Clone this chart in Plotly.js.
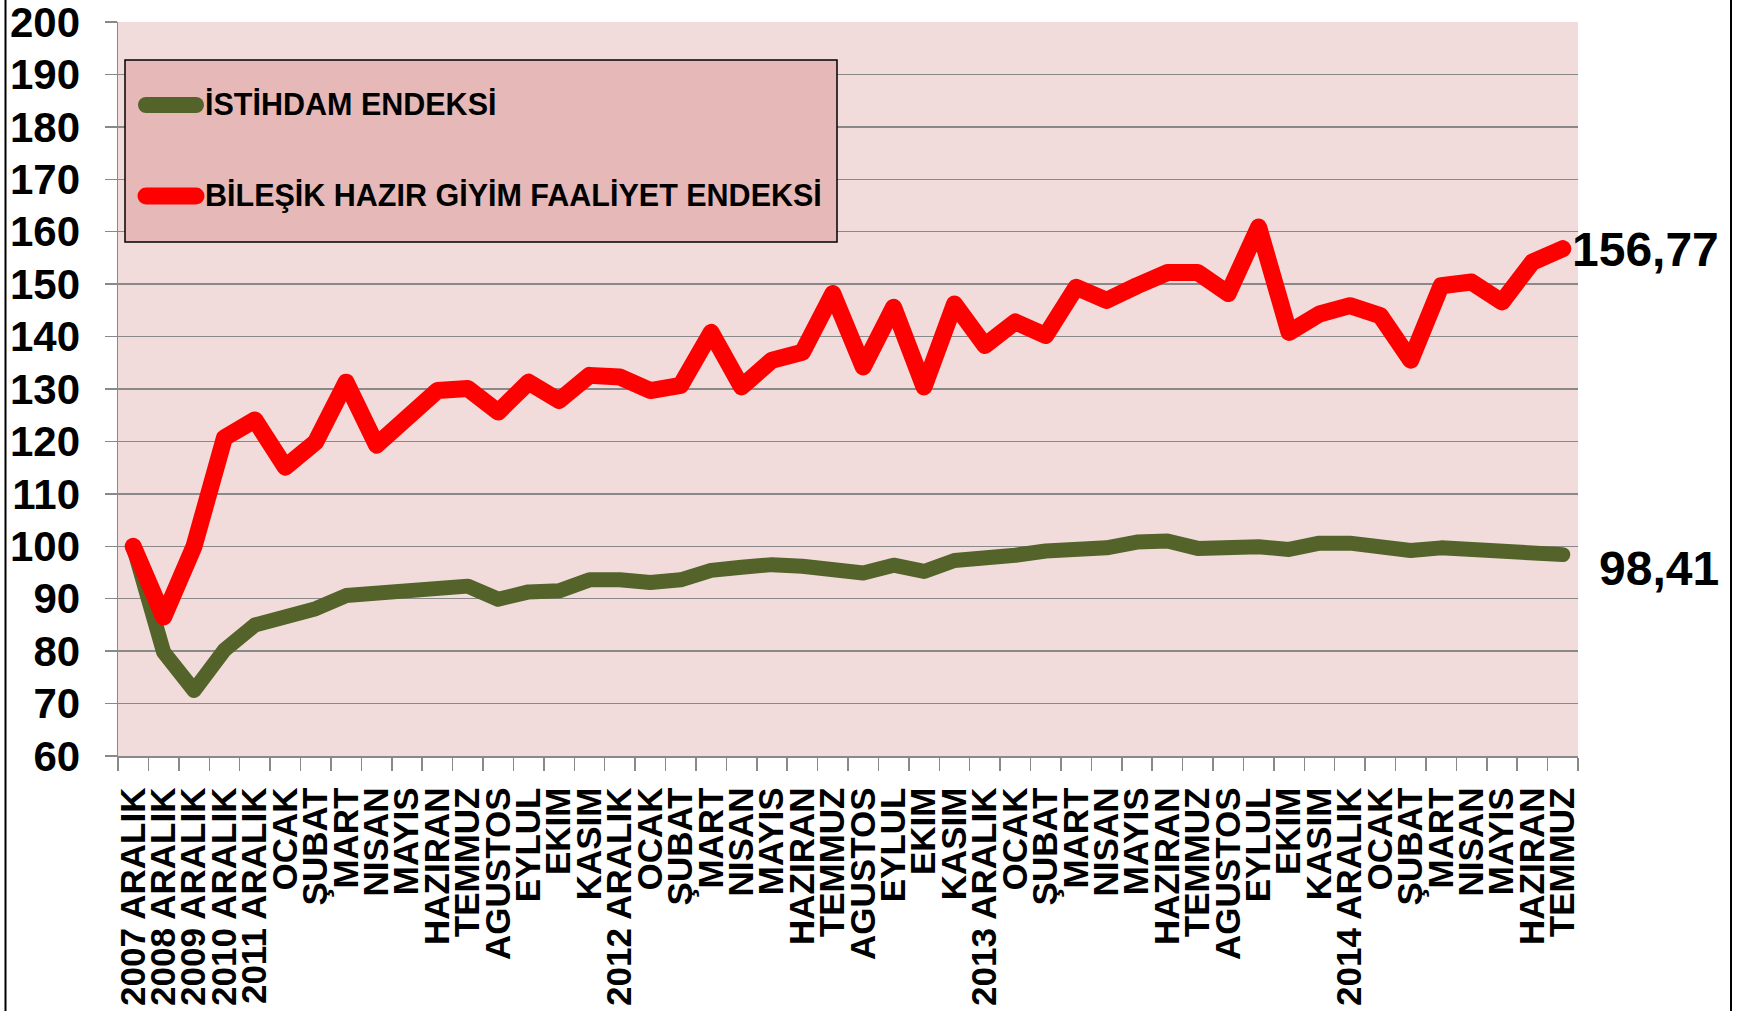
<!DOCTYPE html>
<html>
<head>
<meta charset="utf-8">
<script src="https://cdn.plot.ly/plotly-3.0.1.min.js"></script>
<style>
html,body{margin:0;padding:0;background:#fff;}
#chart{width:1739px;height:1011px;}
.scatterlayer path.js-line{stroke-linejoin:round;stroke-linecap:round;}
.shapelayer path{stroke-linecap:round;}
</style>
</head>
<body>
<div id="chart"></div>
<script>
// ---- data ----
const categories = [
  "2007 ARALIK","2008 ARALIK","2009 ARALIK","2010 ARALIK","2011 ARALIK",
  "OCAK","ŞUBAT","MART","NISAN","MAYIS","HAZIRAN","TEMMUZ","AGUSTOS","EYLUL","EKIM","KASIM",
  "2012 ARALIK",
  "OCAK","ŞUBAT","MART","NISAN","MAYIS","HAZIRAN","TEMMUZ","AGUSTOS","EYLUL","EKIM","KASIM",
  "2013 ARALIK",
  "OCAK","ŞUBAT","MART","NISAN","MAYIS","HAZIRAN","TEMMUZ","AGUSTOS","EYLUL","EKIM","KASIM",
  "2014 ARALIK",
  "OCAK","ŞUBAT","MART","NISAN","MAYIS","HAZIRAN","TEMMUZ"
];
const istihdamName = "İSTİHDAM ENDEKSİ";
const istihdam = [
  100, 79.8, 72.5, 80.2, 85.0, 86.2, 88.1, 90.6, 91.0, 92.1, 92.5, 92.4, 89.9, 91.3, 91.5, 93.6,
  93.6, 93.1, 93.6, 95.4, 96.0, 96.5, 96.2, 95.6, 94.9, 96.4, 95.2, 97.3,
  97.5, 98.3, 99.1, 99.4, 99.7, 100.8, 101.0, 99.6, 99.9, 99.9, 99.4, 100.6,
  100.6, 99.6, 99.2, 99.7, 99.4, 98.5, 98.4, 98.41
];
const faaliyetName = "BİLEŞİK HAZIR GİYİM FAALİYET ENDEKSİ";
const faaliyet = [
  100, 86.5, 100, 120.7, 124.1, 115.1, 119.9, 131.3, 119.3, 124.0, 129.7, 130.1, 125.6, 131.3, 127.8, 132.6,
  132.3, 129.7, 130.7, 140.8, 130.4, 135.5, 137.0, 148.2, 134.2, 145.6, 130.4, 146.2,
  138.3, 142.8, 140.2, 149.4, 146.9, 149.7, 152.2, 152.2, 148.2, 160.9, 140.8, 144.3,
  145.9, 144.0, 135.5, 149.7, 150.4, 146.6, 154.2, 156.77
];
const yTicks = [60,70,80,90,100,110,120,130,140,150,160,170,180,190,200];

// ---- layout helpers ----
const W = 1739, H = 1011;
const M = {l:118, r:161, t:22, b:255};
const PW = W - M.l - M.r, PH = H - M.t - M.b;
const px = x => (x - M.l) / PW;
const py = y => (H - M.b - y) / PH;

const idx = categories.map((_, i) => i);
const GREEN = "#536329", RED = "#FF0000", GRID = "#898989";

const traces = [
  {x: idx, y: istihdam, name: istihdamName, type: "scatter", mode: "lines",
   line: {color: GREEN, width: 15}, showlegend: false, hoverinfo: "skip"},
  {x: idx, y: faaliyet, name: faaliyetName, type: "scatter", mode: "lines",
   line: {color: RED, width: 17}, showlegend: false, hoverinfo: "skip"}
];

const fmt = v => v.toFixed(2).replace(".", ",");
const lastI = categories.length - 1;

const shapes = [
  // outer frame sides
  {type:"line", xref:"paper", yref:"paper", x0:px(5.5), x1:px(5.5), y0:py(H), y1:py(0), line:{color:"#000", width:2}},
  {type:"line", xref:"paper", yref:"paper", x0:px(1731), x1:px(1731), y0:py(H), y1:py(0), line:{color:"#000", width:2}},
  // legend box
  {type:"rect", xref:"paper", yref:"paper", x0:px(125), x1:px(837), y0:py(242), y1:py(60),
   fillcolor:"#E6B9B8", line:{color:"#000", width:1.5}, layer:"above"},
  // legend samples
  {type:"line", xref:"paper", yref:"paper", x0:px(146), x1:px(196), y0:py(105), y1:py(105), line:{color:GREEN, width:16}, layer:"above"},
  {type:"line", xref:"paper", yref:"paper", x0:px(146), x1:px(196), y0:py(196), y1:py(196), line:{color:RED, width:17}, layer:"above"}
];

const legFont = {family:"Liberation Sans, Arial, sans-serif", size:30.5, color:"#000", weight:"bold"};
const valFont = {family:"Liberation Sans, Arial, sans-serif", size:48, color:"#000", weight:"bold"};
const annotations = [
  {xref:"paper", yref:"paper", x:px(203), y:py(104), xanchor:"left", yanchor:"middle", text:istihdamName, showarrow:false, font:legFont},
  {xref:"paper", yref:"paper", x:px(203), y:py(195), xanchor:"left", yanchor:"middle", text:faaliyetName, showarrow:false, font:legFont},
  {xref:"paper", yref:"y", x:px(1721), y:faaliyet[lastI], xanchor:"right", yanchor:"middle", yshift:-1,
   text:fmt(faaliyet[lastI]), showarrow:false, font:valFont},
  {xref:"paper", yref:"y", x:px(1721), y:istihdam[lastI], xanchor:"right", yanchor:"middle", yshift:-14,
   text:fmt(istihdam[lastI]), showarrow:false, font:valFont}
];

const layout = {
  width: W, height: H,
  margin: M,
  paper_bgcolor: "#FFFFFF",
  plot_bgcolor: "#F2DCDB",
  showlegend: false,
  xaxis: {
    type: "linear",
    range: [-0.5, lastI + 0.5],
    tickmode: "array",
    tickvals: idx,
    ticktext: categories,
    tickangle: -90,
    ticks: "",
    ticklabelstandoff: 16,
    ticklabeloverflow: "allow",
    tickfont: {family:"Liberation Sans, Arial, sans-serif", size:35, color:"#000", weight:"bold"},
    showgrid: false,
    zeroline: false,
    showline: true, linecolor: GRID, linewidth: 1.5,
    minor: {ticks:"outside", tick0:-0.5, dtick:1, ticklen:13, tickcolor:GRID, tickwidth:1.5, showgrid:false},
    automargin: false,
    fixedrange: true
  },
  yaxis: {
    range: [60, 200],
    tickmode: "array",
    tickvals: yTicks,
    ticktext: yTicks.map(String),
    ticks: "outside", ticklen: 12, tickcolor: GRID, tickwidth: 1.5,
    ticklabelstandoff: 16,
    ticklabeloverflow: "allow",
    tickfont: {family:"Liberation Sans, Arial, sans-serif", size:42, color:"#000", weight:"bold"},
    showgrid: true, gridcolor: GRID, gridwidth: 1.5,
    zeroline: false,
    showline: true, linecolor: GRID, linewidth: 1.5,
    automargin: false,
    fixedrange: true
  },
  shapes: shapes,
  annotations: annotations
};

Plotly.newPlot("chart", traces, layout, {displayModeBar:false, staticPlot:true});
</script>
</body>
</html>
